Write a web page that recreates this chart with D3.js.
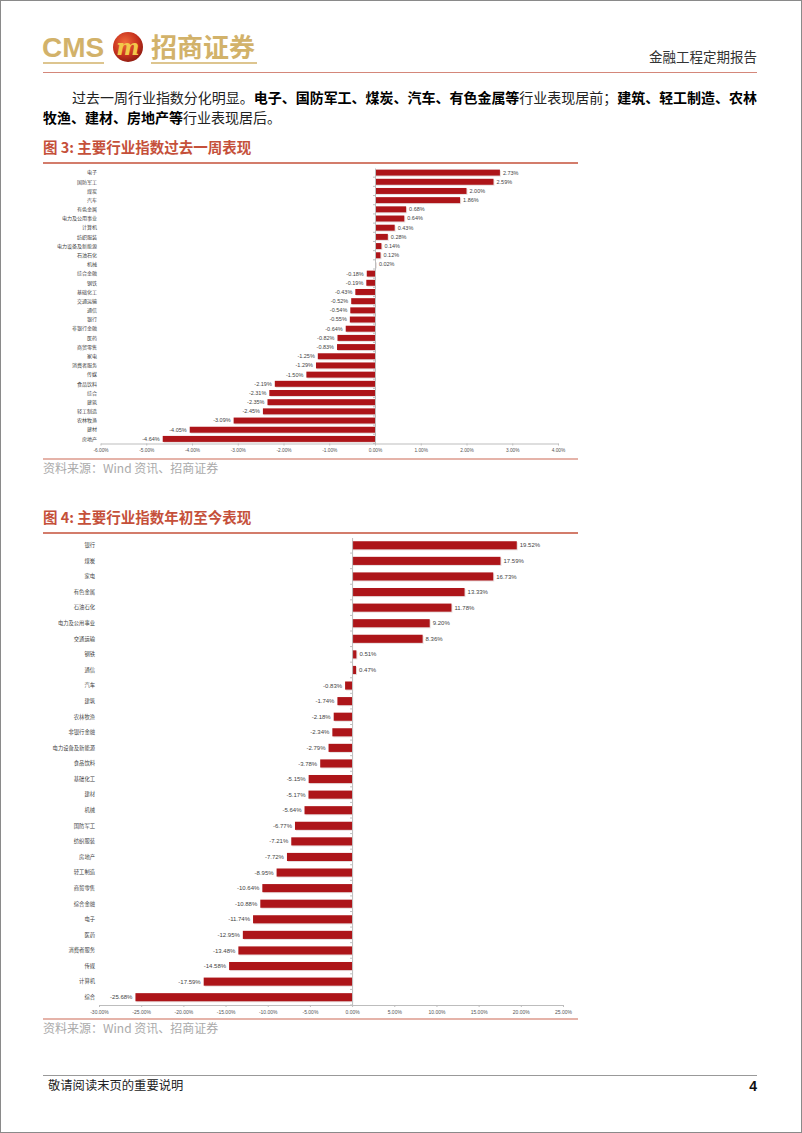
<!DOCTYPE html>
<html><head><meta charset="utf-8">
<script src="https://cdn.jsdelivr.net/npm/d3@7"></script>
<style>
html,body{margin:0;padding:0;background:#fff;}
svg{display:block;}
</style></head>
<body>
<svg id="page" width="802" height="1133"></svg>
<script>
// ---- Data ----
const weekCats = ["电子","国防军工","煤炭","汽车","有色金属","电力及公用事业","计算机","纺织服装","电力设备及新能源","石油石化","机械","综合金融","钢铁","基础化工","交通运输","通信","银行","非银行金融","医药","商贸零售","家电","消费者服务","传媒","食品饮料","综合","建筑","轻工制造","农林牧渔","建材","房地产"];
const weekVals = [2.73,2.59,2.00,1.86,0.68,0.64,0.43,0.28,0.14,0.12,0.02,-0.18,-0.19,-0.43,-0.52,-0.54,-0.55,-0.64,-0.82,-0.83,-1.25,-1.29,-1.50,-2.19,-2.31,-2.35,-2.45,-3.09,-4.05,-4.64];
const weekTicks = [-6,-5,-4,-3,-2,-1,0,1,2,3,4];

const ytdCats = ["银行","煤炭","家电","有色金属","石油石化","电力及公用事业","交通运输","钢铁","通信","汽车","建筑","农林牧渔","非银行金融","电力设备及新能源","食品饮料","基础化工","建材","机械","国防军工","纺织服装","房地产","轻工制造","商贸零售","综合金融","电子","医药","消费者服务","传媒","计算机","综合"];
const ytdVals = [19.52,17.59,16.73,13.33,11.78,9.20,8.36,0.51,0.47,-0.83,-1.74,-2.18,-2.34,-2.79,-3.78,-5.15,-5.17,-5.64,-6.77,-7.21,-7.72,-8.95,-10.64,-10.88,-11.74,-12.95,-13.48,-14.58,-17.59,-25.68];
const ytdTicks = [-30,-25,-20,-15,-10,-5,0,5,10,15,20,25];

// ---- Page ----
const svg = d3.select("#page");
const CJK = "'Noto Sans CJK SC','Noto Sans',sans-serif";
const BAR = "#ad1519";
const GOLD = "#d2b26a";

svg.append("rect").attr("x",0.5).attr("y",0.5).attr("width",801).attr("height",1132)
  .attr("fill","#fff").attr("stroke","#8a8a8a");

// Header logo
svg.append("text").attr("x",42).attr("y",57).text("CMS")
  .attr("font-family","'Liberation Sans',Arial,sans-serif").attr("font-weight","bold")
  .attr("font-size",28).attr("fill",GOLD);
const defs = svg.append("defs");
const rg = defs.append("radialGradient").attr("id","lg").attr("cx","40%").attr("cy","35%").attr("r","70%");
rg.append("stop").attr("offset","0%").attr("stop-color","#f06a3a");
rg.append("stop").attr("offset","60%").attr("stop-color","#c8321e");
rg.append("stop").attr("offset","100%").attr("stop-color","#8a1a10");
svg.append("circle").attr("cx",128).attr("cy",47).attr("r",15).attr("fill","url(#lg)");
svg.append("text").attr("x",128).attr("y",55).attr("text-anchor","middle").text("m")
  .attr("font-family","'DejaVu Serif',serif").attr("font-weight","bold").attr("font-style","italic")
  .attr("font-size",22).attr("fill","#f2c84a");
svg.append("text").attr("x",151).attr("y",57).text("招商证券")
  .attr("font-family",CJK).attr("font-weight","bold").attr("font-size",26).attr("fill",GOLD);
svg.append("line").attr("x1",43).attr("x2",104).attr("y1",63).attr("y2",63).attr("stroke",GOLD).attr("stroke-width",1.5);
svg.append("line").attr("x1",151).attr("x2",257).attr("y1",63).attr("y2",63).attr("stroke",GOLD).attr("stroke-width",1.5);
svg.append("text").attr("x",757).attr("y",62).attr("text-anchor","end").text("金融工程定期报告")
  .attr("font-family",CJK).attr("font-size",13.5).attr("fill","#333");
svg.append("line").attr("x1",43).attr("x2",757).attr("y1",72.5).attr("y2",72.5).attr("stroke","#d4877a").attr("stroke-width",1);

// Paragraph
function rich(y, x, parts, width){
  const t = svg.append("text").attr("x",x).attr("y",y).attr("font-family",CJK).attr("font-size",14);
  parts.forEach(p=>t.append("tspan").text(p[0]).attr("font-weight",p[1]?"bold":"normal").attr("fill",p[1]?"#000":"#222"));
  if(width) t.attr("textLength",width).attr("lengthAdjust","spacing");
}
rich(103,72,[["过去一周行业指数分化明显。",0],["电子、国防军工、煤炭、汽车、有色金属等",1],["行业表现居前；",0],["建筑、轻工制造、农林",1]],685);
rich(123,43,[["牧渔、建材、房地产等",1],["行业表现居后。",0]]);

// ---- Chart builder ----
function chart(opt){
  const g = svg.append("g");
  g.append("text").attr("x",43).attr("y",opt.titleY).text(opt.title)
    .attr("font-family",CJK).attr("font-weight","bold").attr("font-size",14.5).attr("fill","#c5503a");
  g.append("line").attr("x1",43).attr("x2",578).attr("y1",opt.titleY+10).attr("y2",opt.titleY+10)
    .attr("stroke","#c5503a").attr("stroke-width",1.6);
  g.append("line").attr("x1",43).attr("x2",578).attr("y1",opt.bottomLine).attr("y2",opt.bottomLine)
    .attr("stroke","#dc9a8c").attr("stroke-width",1.6);
  g.append("text").attr("x",43).attr("y",opt.bottomLine+14).text("资料来源：Wind 资讯、招商证券")
    .attr("font-family",CJK).attr("font-size",12).attr("fill","#aaa");

  const x = d3.scaleLinear().domain(opt.domain).range(opt.xRange);
  const y = d3.scaleBand().domain(opt.cats).range(opt.yRange).paddingInner(opt.pad).paddingOuter(opt.pad/2);
  const data = opt.cats.map((c,i)=>({c, v:opt.vals[i]}));

  // bars (with light shadow)
  g.append("g").selectAll("rect").data(data).join("rect")
    .attr("x",d=>Math.min(x(0),x(d.v))+1).attr("y",d=>y(d.c)+1)
    .attr("width",d=>Math.abs(x(d.v)-x(0))).attr("height",y.bandwidth())
    .attr("fill","#d8c8c8").attr("opacity",0.6);
  g.append("g").selectAll("rect").data(data).join("rect")
    .attr("x",d=>Math.min(x(0),x(d.v))).attr("y",d=>y(d.c))
    .attr("width",d=>Math.abs(x(d.v)-x(0))).attr("height",y.bandwidth())
    .attr("fill",BAR);

  // x axis
  const ax = g.append("g").attr("transform",`translate(0,${opt.yRange[1]})`)
    .call(d3.axisBottom(x).tickValues(opt.ticks).tickSize(2).tickSizeOuter(0).tickPadding(3)
      .tickFormat(d=>d.toFixed(2)+"%"));
  ax.select(".domain").attr("stroke","#bdbdbd");
  ax.selectAll(".tick line").attr("stroke","#bdbdbd");
  ax.selectAll("text").attr("font-family","'Liberation Sans',Arial,sans-serif").attr("font-size",opt.tickFont).attr("fill","#555");

  // zero axis
  const ay = g.append("g").attr("transform",`translate(${x(0)},0)`)
    .call(d3.axisLeft(y).tickSize(2).tickSizeOuter(0).tickFormat(""));
  ay.select(".domain").attr("stroke","#bdbdbd");
  ay.selectAll(".tick line").attr("stroke","#bdbdbd").attr("transform",`translate(0,${y.step()/2})`);

  // category labels
  g.append("g").selectAll("text").data(data).join("text")
    .attr("x",opt.labelX).attr("y",d=>y(d.c)+y.bandwidth()/2).attr("dy","0.35em")
    .attr("text-anchor","end").text(d=>d.c)
    .attr("font-family",CJK).attr("font-size",opt.catFont).attr("fill","#444");

  // value labels
  g.append("g").selectAll("text").data(data).join("text")
    .attr("x",d=>d.v>=0 ? x(d.v)+3 : x(d.v)-3)
    .attr("y",d=>y(d.c)+y.bandwidth()/2).attr("dy","0.35em")
    .attr("text-anchor",d=>d.v>=0?"start":"end")
    .text(d=>d.v.toFixed(2)+"%")
    .attr("font-family","'Liberation Sans',Arial,sans-serif").attr("font-size",opt.valFont).attr("fill","#444");
}

chart({title:"图 3:  主要行业指数过去一周表现", titleY:153, bottomLine:459,
  cats:weekCats, vals:weekVals, ticks:weekTicks, domain:[-6,4], xRange:[100.5,558],
  yRange:[168,443.5], pad:0.35, labelX:97, catFont:5, valFont:5.5, tickFont:4.8});

chart({title:"图 4:  主要行业指数年初至今表现", titleY:523, bottomLine:1019,
  cats:ytdCats, vals:ytdVals, ticks:ytdTicks, domain:[-30,25], xRange:[99,563],
  yRange:[537.5,1005], pad:0.48, labelX:95, catFont:5.3, valFont:6, tickFont:5});

// Footer
svg.append("line").attr("x1",43).attr("x2",757).attr("y1",1075.5).attr("y2",1075.5).attr("stroke","#999").attr("stroke-width",1);
svg.append("text").attr("x",48).attr("y",1090).text("敬请阅读末页的重要说明")
  .attr("font-family",CJK).attr("font-size",12.3).attr("fill","#222");
svg.append("text").attr("x",757).attr("y",1091).attr("text-anchor","end").text("4")
  .attr("font-family","'Liberation Sans',Arial,sans-serif").attr("font-weight","bold").attr("font-size",14).attr("fill","#111");
</script>
</body></html>
